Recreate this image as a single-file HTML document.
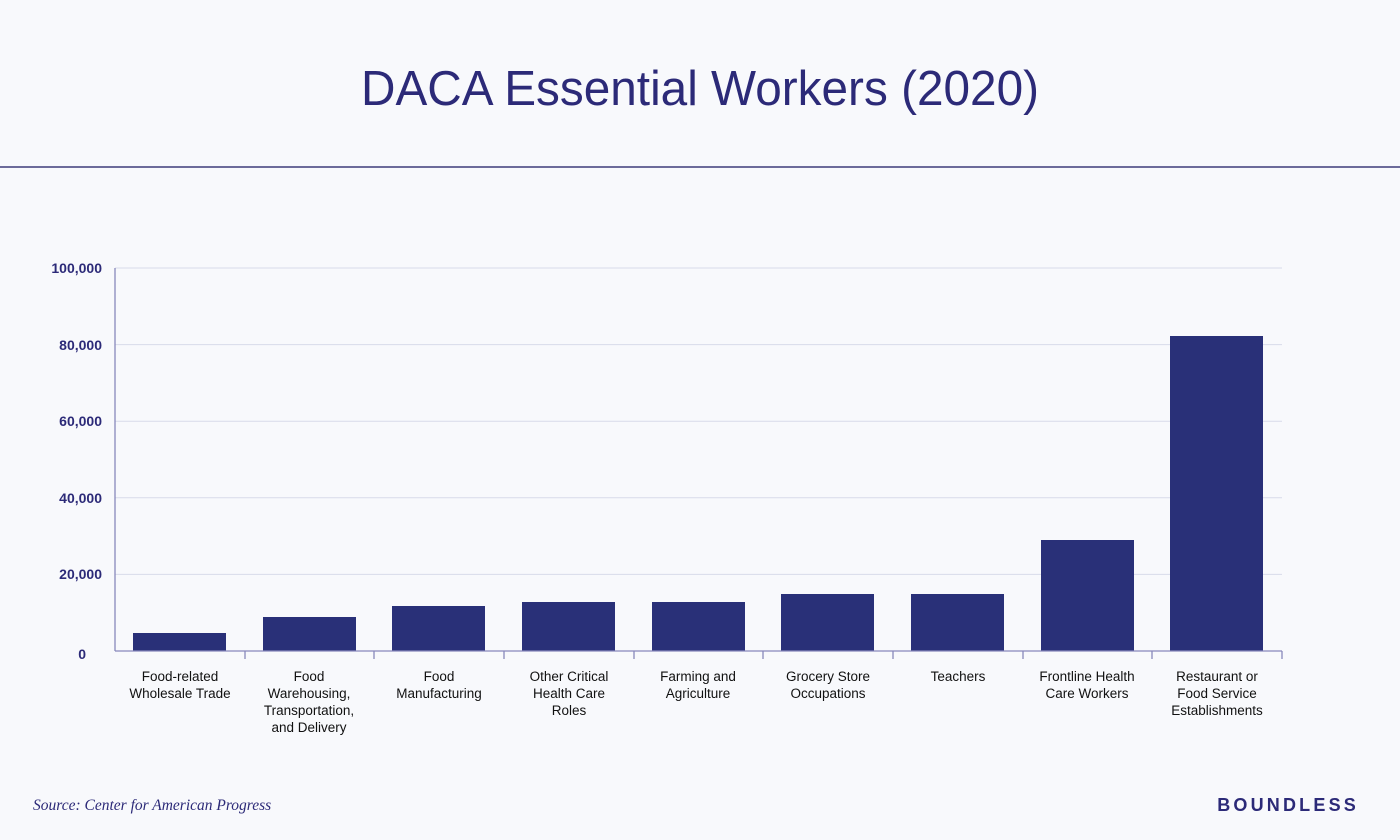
<!DOCTYPE html>
<html><head><meta charset="utf-8"><style>
html,body{margin:0;padding:0;background:#f8f9fc;}
svg{display:block;font-family:"Liberation Sans",sans-serif;}
</style></head><body>
<svg width="1400" height="840" viewBox="0 0 1400 840">
<rect width="1400" height="840" fill="#f8f9fc"/>
<text x="700" y="105" text-anchor="middle" font-size="49" fill="#2c2a78" textLength="678" lengthAdjust="spacingAndGlyphs">DACA Essential Workers (2020)</text>
<line x1="0" y1="167" x2="1400" y2="167" stroke="#3e3c7a" stroke-width="1.5"/>
<g stroke="#d8dbea" stroke-width="1">
<line x1="115" y1="268" x2="1282" y2="268"/>
<line x1="115" y1="344.6" x2="1282" y2="344.6"/>
<line x1="115" y1="421.2" x2="1282" y2="421.2"/>
<line x1="115" y1="497.8" x2="1282" y2="497.8"/>
<line x1="115" y1="574.4" x2="1282" y2="574.4"/>
</g>
<g font-size="14" fill="#2c2a78" text-anchor="end" font-weight="bold">
<text x="102" y="273">100,000</text>
<text x="102" y="350">80,000</text>
<text x="102" y="426">60,000</text>
<text x="102" y="503">40,000</text>
<text x="102" y="579">20,000</text>
<text x="86" y="659">0</text>
</g>
<g fill="#293078">
<rect x="133" y="633" width="93" height="18"/>
<rect x="263" y="617" width="93" height="34"/>
<rect x="392" y="606" width="93" height="45"/>
<rect x="522" y="602" width="93" height="49"/>
<rect x="652" y="602" width="93" height="49"/>
<rect x="781" y="594" width="93" height="57"/>
<rect x="911" y="594" width="93" height="57"/>
<rect x="1041" y="540" width="93" height="111"/>
<rect x="1170" y="336" width="93" height="315"/>
</g>
<g stroke="#8888bb" stroke-width="1.3">
<line x1="115" y1="268" x2="115" y2="651"/>
<line x1="115" y1="651" x2="1282" y2="651"/>
<line x1="245" y1="651" x2="245" y2="659"/>
<line x1="374" y1="651" x2="374" y2="659"/>
<line x1="504" y1="651" x2="504" y2="659"/>
<line x1="634" y1="651" x2="634" y2="659"/>
<line x1="763" y1="651" x2="763" y2="659"/>
<line x1="893" y1="651" x2="893" y2="659"/>
<line x1="1023" y1="651" x2="1023" y2="659"/>
<line x1="1152" y1="651" x2="1152" y2="659"/>
<line x1="1282" y1="651" x2="1282" y2="659"/>
</g>
<g font-size="13.5" fill="#111" text-anchor="middle">
<text x="180" y="681">Food-related</text><text x="180" y="698">Wholesale Trade</text>
<text x="309" y="681">Food</text><text x="309" y="698">Warehousing,</text><text x="309" y="715">Transportation,</text><text x="309" y="732">and Delivery</text>
<text x="439" y="681">Food</text><text x="439" y="698">Manufacturing</text>
<text x="569" y="681">Other Critical</text><text x="569" y="698">Health Care</text><text x="569" y="715">Roles</text>
<text x="698" y="681">Farming and</text><text x="698" y="698">Agriculture</text>
<text x="828" y="681">Grocery Store</text><text x="828" y="698">Occupations</text>
<text x="958" y="681">Teachers</text>
<text x="1087" y="681">Frontline Health</text><text x="1087" y="698">Care Workers</text>
<text x="1217" y="681">Restaurant or</text><text x="1217" y="698">Food Service</text><text x="1217" y="715">Establishments</text>
</g>
<text x="33" y="810" font-family="Liberation Serif,serif" font-style="italic" font-size="15.5" fill="#2c2a78">Source: Center for American Progress</text>
<text x="1359" y="811" text-anchor="end" font-size="18" font-weight="bold" fill="#2c2a78" letter-spacing="3.2">BOUNDLESS</text>
</svg>
</body></html>
